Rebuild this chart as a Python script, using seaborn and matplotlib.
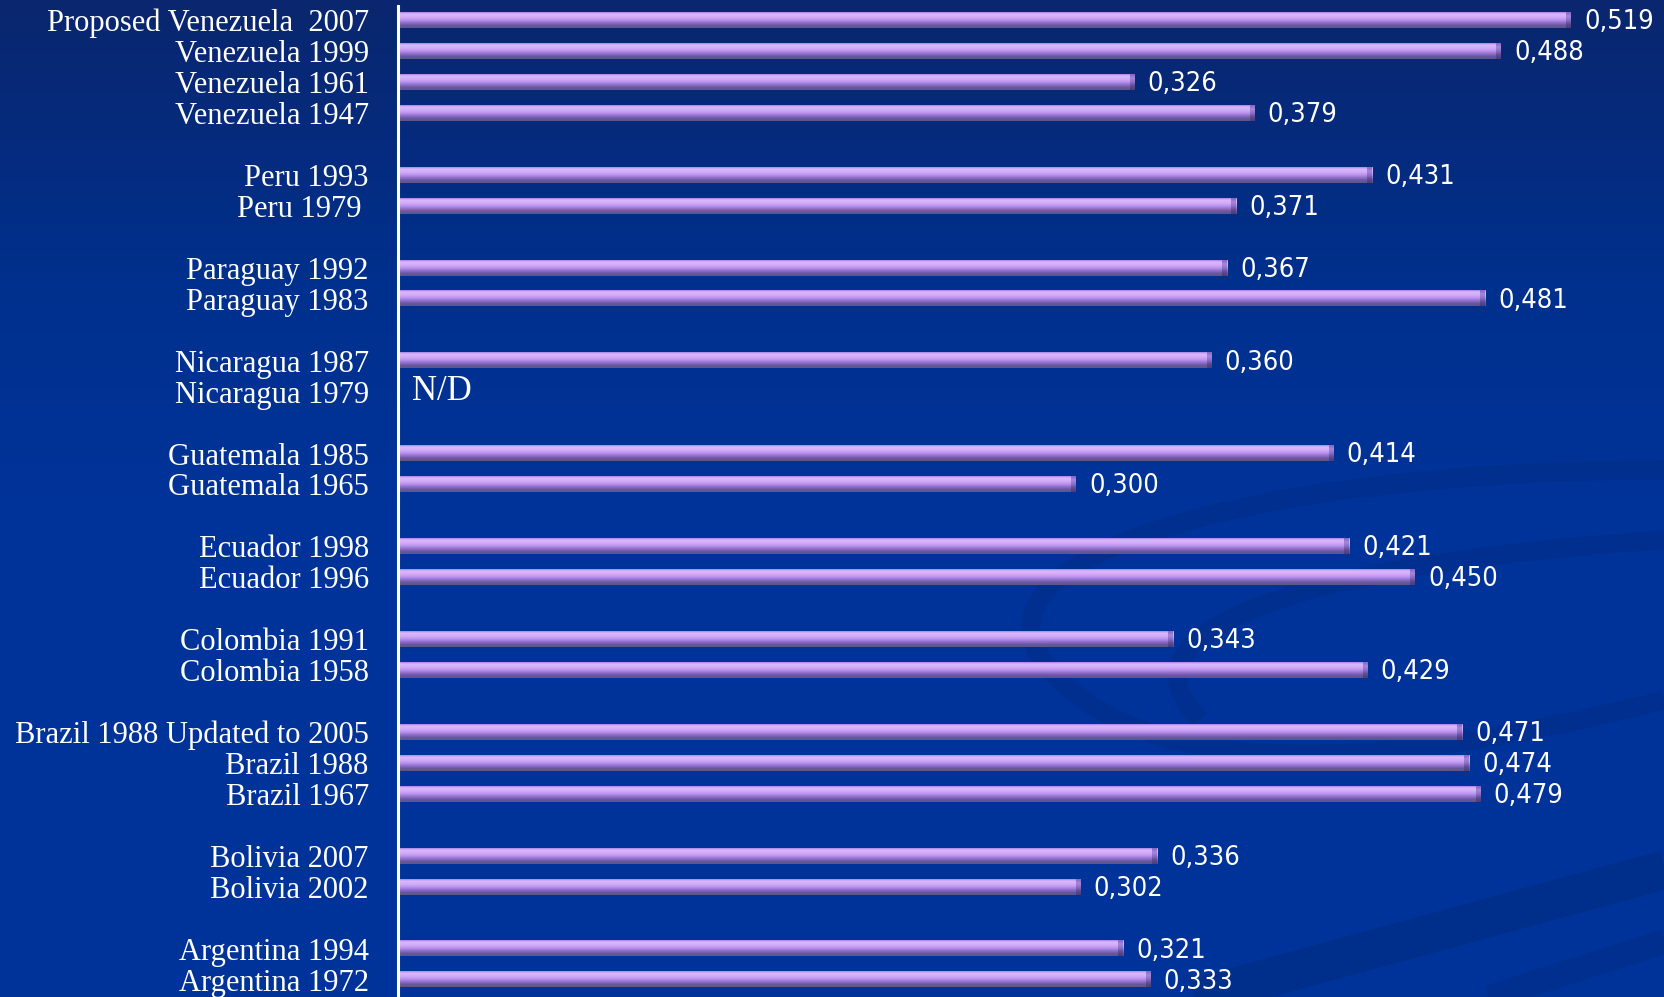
import numpy as np
import pandas as pd
import seaborn as sns
import matplotlib.pyplot as plt
from matplotlib.colors import LinearSegmentedColormap
from matplotlib.path import Path
from matplotlib.patches import PathPatch

# slot order, top to bottom; whitespace-only names are spacer rows between countries
slots = [
    "Proposed Venezuela  2007", "Venezuela 1999", "Venezuela 1961", "Venezuela 1947", " ",
    "Peru 1993", "Peru 1979 ", "  ",
    "Paraguay 1992", "Paraguay 1983", "   ",
    "Nicaragua 1987", "Nicaragua 1979", "    ",
    "Guatemala 1985", "Guatemala 1965", "     ",
    "Ecuador 1998", "Ecuador 1996", "      ",
    "Colombia 1991", "Colombia 1958", "       ",
    "Brazil 1988 Updated to 2005", "Brazil 1988", "Brazil 1967", "        ",
    "Bolivia 2007", "Bolivia 2002", "         ",
    "Argentina 1994", "Argentina 1972",
]

constitutions = [
    "Proposed Venezuela  2007", "Venezuela 1999", "Venezuela 1961", "Venezuela 1947",
    "Peru 1993", "Peru 1979 ",
    "Paraguay 1992", "Paraguay 1983",
    "Nicaragua 1987", "Nicaragua 1979",
    "Guatemala 1985", "Guatemala 1965",
    "Ecuador 1998", "Ecuador 1996",
    "Colombia 1991", "Colombia 1958",
    "Brazil 1988 Updated to 2005", "Brazil 1988", "Brazil 1967",
    "Bolivia 2007", "Bolivia 2002",
    "Argentina 1994", "Argentina 1972",
]
scores = [
    0.519, 0.488, 0.326, 0.379,
    0.431, 0.371,
    0.367, 0.481,
    0.360, np.nan,
    0.414, 0.300,
    0.421, 0.450,
    0.343, 0.429,
    0.471, 0.474, 0.479,
    0.336, 0.302,
    0.321, 0.333,
]

df = pd.DataFrame({"label": constitutions, "score": scores})

label_font = "Liberation Serif"
num_font = "DejaVu Sans"

W, H = 1664, 997
axis_x = 398
px_per_unit = 2260
top_slot_y, slot_h = 20.2, 30.95

fig = plt.figure(figsize=(W / 100, H / 100), dpi=100)

# background: blue gradient with faint darker swirls
bg = fig.add_axes([0, 0, 1, 1], zorder=0)
bg.set_xlim(0, W)
bg.set_ylim(H, 0)
bg.axis("off")
bg_cmap = LinearSegmentedColormap.from_list(
    "bg", [(0, "#0a266e"), (0.28, "#00308d"), (0.5, "#003399"), (1, "#003399")])
bg.imshow(np.linspace(0, 1, 256).reshape(-1, 1), cmap=bg_cmap, aspect="auto",
          extent=[0, W, H, 0], zorder=0)
swirls = [
    [(1664, 470), (1250, 470), (930, 560), (1060, 680)],
    [(1060, 680), (1150, 770), (1350, 780), (1664, 700)],
    [(1664, 540), (1350, 560), (1100, 620), (1200, 720)],
]
for pts in swirls:
    p = Path(pts, [Path.MOVETO, Path.CURVE4, Path.CURVE4, Path.CURVE4])
    bg.add_patch(PathPatch(p, fill=False, lw=14, edgecolor="#002a80", alpha=0.35, zorder=1))
bg.add_patch(PathPatch(Path([(1150, 1010), (1700, 860)]), fill=False, lw=28,
                       edgecolor="#002a80", alpha=0.55, zorder=1))
bg.add_patch(PathPatch(Path([(1450, 1010), (1700, 930)]), fill=False, lw=18,
                       edgecolor="#002a80", alpha=0.35, zorder=1))

ax = fig.add_axes([axis_x / W, 0, 1 - axis_x / W, 1], zorder=1)
ax.patch.set_alpha(0)

sns.barplot(data=df.dropna(), x="score", y="label", order=slots, orient="h",
            color="#b890ee", width=0.5, errorbar=None, ax=ax)

ax.set_xlim(0, (W - axis_x) / px_per_unit)
y_top = -top_slot_y / slot_h
y_bot = (H - top_slot_y) / slot_h
ax.set_ylim(y_bot, y_top)

# cylinder-like shading on each bar
bar_cmap = LinearSegmentedColormap.from_list(
    "bar", [(0, "#a486e6"), (0.12, "#dcb8fc"), (0.33, "#d2aaf8"), (0.5, "#b892ee"),
            (0.68, "#8c6ec8"), (0.85, "#68569e"), (1, "#5a5a86")])
end_cmap = LinearSegmentedColormap.from_list(
    "end", ["#8466c4", "#a688de", "#8a70c8", "#5e4a92", "#4a3e78"])
shade = np.linspace(0, 1, 64).reshape(-1, 1)
end_w = 5 / px_per_unit
for bar in ax.patches:
    w = bar.get_width()
    if not np.isfinite(w) or w <= 0:
        continue
    y0, h = bar.get_y(), bar.get_height()
    bar.set_facecolor("none")
    bar.set_edgecolor("none")
    ax.imshow(shade, cmap=bar_cmap, aspect="auto", interpolation="bilinear",
              extent=[0, w, y0 + h, y0], zorder=3)
    ax.imshow(shade, cmap=end_cmap, aspect="auto", interpolation="bilinear",
              extent=[w - end_w, w, y0 + h, y0], zorder=4)
    ax.text(w + 13 / px_per_unit, y0 + h / 2 + 0.06, f"{w:.3f}".replace(".", ","),
            color="white", fontsize=19.5, family=num_font, fontstretch="condensed",
            va="center", ha="left", zorder=5)

ax.text(14 / px_per_unit, slots.index("Nicaragua 1979"), "N/D", color="white",
        fontsize=25, family=label_font, va="center", ha="left", zorder=5)

ax.set_xlabel("")
ax.set_ylabel("")
ax.set_xticks([])
ax.tick_params(axis="y", length=0, pad=21, colors="white")
for t in ax.get_yticklabels():
    t.set_family(label_font)
    t.set_fontsize(22)
    t.set_color("white")
for s in ["top", "right", "bottom"]:
    ax.spines[s].set_visible(False)
ax.spines["left"].set_color("white")
ax.spines["left"].set_linewidth(2.2)
ax.spines["left"].set_bounds(y_bot, (6 - top_slot_y) / slot_h)
ax.spines["left"].set_zorder(6)

fig.savefig("out.png", dpi=100, facecolor="#003399")
